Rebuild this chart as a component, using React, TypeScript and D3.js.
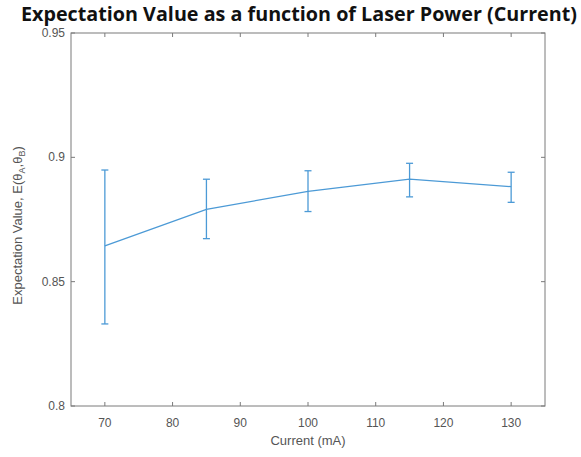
import React from 'react';
import * as d3 from 'd3';

const currents = [70, 85, 100, 115, 130];
const means = [0.8644, 0.8791, 0.8863, 0.8912, 0.8882];
const uppers = [0.8949, 0.8912, 0.8946, 0.8976, 0.894];
const lowers = [0.833, 0.8673, 0.8782, 0.8841, 0.8819];
const xTicks = [70, 80, 90, 100, 110, 120, 130];
const yTicks = [0.8, 0.85, 0.9, 0.95];

const W = 581;
const H = 457;
const margin = { top: 33, right: 36, bottom: 51, left: 71 };

export default function App() {
  const x = d3.scaleLinear().domain([65, 135]).range([margin.left, W - margin.right]);
  const y = d3.scaleLinear().domain([0.8, 0.95]).range([H - margin.bottom, margin.top]);
  const line = d3.line<number>().x((d, i) => x(currents[i])).y(d => y(d));
  const blue = '#4c9ad6';
  const axisCol = '#7a7a7a';
  const textCol = '#555';
  const x0 = margin.left, x1 = W - margin.right, y0 = margin.top, y1 = H - margin.bottom;

  return (
    <svg width={W} height={H} style={{ position: 'absolute', left: 0, top: 0, fontFamily: 'Liberation Sans, Arial, sans-serif' }}>
      <rect width={W} height={H} fill="#fff" />
      <text x={299} y={21} textAnchor="middle" fontFamily="Open Sans" fontWeight="bold" fontSize={19.5} textLength={556} lengthAdjust="spacingAndGlyphs" fill="#111">
        Expectation Value as a function of Laser Power (Current)
      </text>
      {/* axes box */}
      <rect x={x0} y={y0} width={x1 - x0} height={y1 - y0} fill="none" stroke={axisCol} strokeWidth={1} />
      {xTicks.map(t => (
        <g key={'x' + t}>
          <line x1={x(t)} x2={x(t)} y1={y1} y2={y1 - 4} stroke={axisCol} />
          <line x1={x(t)} x2={x(t)} y1={y0} y2={y0 + 4} stroke={axisCol} />
          <text x={x(t)} y={y1 + 21} textAnchor="middle" fontSize={12} fill={textCol}>{t}</text>
        </g>
      ))}
      {yTicks.map(t => (
        <g key={'y' + t}>
          <line x1={x0} x2={x0 + 4} y1={y(t)} y2={y(t)} stroke={axisCol} />
          <line x1={x1} x2={x1 - 4} y1={y(t)} y2={y(t)} stroke={axisCol} />
          <text x={x0 - 6} y={y(t) + 4} textAnchor="end" fontSize={12} fill={textCol}>{String(t)}</text>
        </g>
      ))}
      <text x={(x0 + x1) / 2} y={y1 + 39} textAnchor="middle" fontSize={13} fill={textCol}>Current (mA)</text>
      <text transform={`translate(22,${(y0 + y1) / 2 + 6}) rotate(-90)`} textAnchor="middle" fontSize={13} fill={textCol}>
        Expectation Value, E(θ<tspan fontSize={9} dy={3}>A</tspan><tspan dy={-3}>,θ</tspan><tspan fontSize={9} dy={3}>B</tspan><tspan dy={-3}>)</tspan>
      </text>
      {/* data */}
      <path d={line(means) || ''} fill="none" stroke={blue} strokeWidth={1.3} />
      {currents.map((c, i) => (
        <g key={'e' + c} stroke={blue} strokeWidth={1.3}>
          <line x1={x(c)} x2={x(c)} y1={y(uppers[i])} y2={y(lowers[i])} />
          <line x1={x(c) - 3.5} x2={x(c) + 3.5} y1={y(uppers[i])} y2={y(uppers[i])} />
          <line x1={x(c) - 3.5} x2={x(c) + 3.5} y1={y(lowers[i])} y2={y(lowers[i])} />
        </g>
      ))}
    </svg>
  );
}
